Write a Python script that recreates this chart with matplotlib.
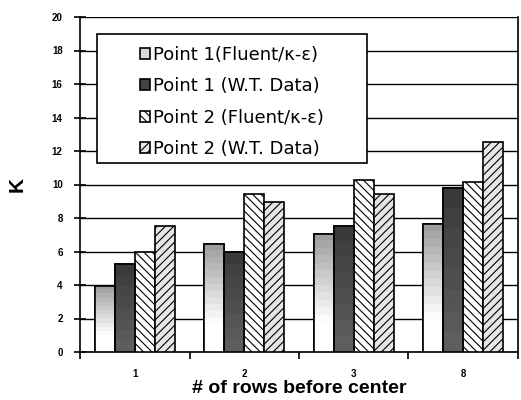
import matplotlib
matplotlib.use("Agg")
import matplotlib.pyplot as plt
import numpy as np

plt.rcParams['font.family'] = ['Liberation Sans', 'DejaVu Sans']
plt.rcParams['hatch.linewidth'] = 0.8

# dane
groups = ["1", "2", "3", "8"]
p1_fluent = [3.95, 6.45, 7.05, 7.65]
p1_wt = [5.25, 6.0, 7.55, 9.8]
p2_fluent = [5.95, 9.45, 10.25, 10.15]
p2_wt = [7.55, 8.95, 9.45, 12.55]
labels = ["Point 1(Fluent/κ-ε)", "Point 1 (W.T. Data)",
          "Point 2 (Fluent/κ-ε)", "Point 2 (W.T. Data)"]


def gradient_fill(ax, bars, top_val, bottom_val, nbands=16):
    # wypełnienie gradientem w paskach, przycięte do kształtu słupka
    grad = np.clip(np.linspace(top_val, bottom_val, nbands), 0, 1)
    for b in bars:
        x0, y0 = b.get_x(), b.get_y()
        w, h = b.get_width(), b.get_height()
        im = ax.imshow(grad.reshape(-1, 1), cmap="gray", vmin=0, vmax=1,
                       extent=(x0, x0 + w, y0, y0 + h), aspect="auto",
                       interpolation="nearest", zorder=b.get_zorder() + 0.1)
        im.set_clip_path(b)
        # obrys na wierzch
        ax.add_patch(plt.Rectangle((x0, y0), w, h, fill=False, edgecolor="black",
                                   linewidth=1.2, zorder=b.get_zorder() + 0.2))


fig = plt.figure(figsize=(5.21, 4.00), dpi=100)
ax = fig.add_axes([0.1536, 0.12, 0.8405, 0.8375])

x = np.arange(len(groups))
w = 0.182
offs = np.array([-1.5, -0.5, 0.5, 1.5]) * w

b1 = ax.bar(x + offs[0], p1_fluent, w, color="#d8d8d8", edgecolor="black", linewidth=1.2,
            label=labels[0], zorder=3)
b2 = ax.bar(x + offs[1], p1_wt, w, color="#444444", edgecolor="black", linewidth=1.2,
            label=labels[1], zorder=3)
b3 = ax.bar(x + offs[2], p2_fluent, w, color="white", edgecolor="black", linewidth=1.2,
            hatch="\\\\\\\\", label=labels[2], zorder=3)
b4 = ax.bar(x + offs[3], p2_wt, w, color="#e6e6e6", edgecolor="black", linewidth=1.2,
            hatch="////", label=labels[3], zorder=3)

gradient_fill(ax, b1, 0.62, 1.12)
gradient_fill(ax, b2, 0.23, 0.37, nbands=8)

ax.set_xlim(-0.5, 3.5)
ax.set_ylim(0, 20)
ax.set_yticks(np.arange(0, 21, 2))
ax.yaxis.grid(True, color="black", linewidth=1.0, zorder=0)
ax.set_axisbelow(True)

ax.set_xticks(np.arange(-0.5, 4.0, 1.0))
ax.set_xticklabels([])
ax.set_xticks(x, minor=True)
ax.set_xticklabels(groups, minor=True)
ax.tick_params(axis="x", which="major", direction="out", length=5, width=1.2)
ax.tick_params(axis="x", which="minor", length=0, pad=12, labelsize=7)
ax.tick_params(axis="y", direction="inout", length=9, width=1.2, labelsize=7, pad=8)
for t in ax.get_xticklabels(minor=True) + ax.get_yticklabels():
    t.set_fontweight("bold")

for s in ax.spines.values():
    s.set_linewidth(1.2)
ax.spines["top"].set_visible(False)

ax.set_ylabel("K", fontsize=15, fontweight="bold", labelpad=18)
ax.set_xlabel("# of rows before center", fontsize=14, fontweight="bold", labelpad=1)

# ramka legendy rysowana osobno (w oryginale jest szersza niż treść)
frame = plt.Rectangle((0.039, 0.564), 0.616, 0.385, transform=ax.transAxes,
                      facecolor="white", edgecolor="black", linewidth=1.2, zorder=5)
ax.add_patch(frame)
leg = ax.legend(loc="center", bbox_to_anchor=(0.039 + 0.616 / 2, 0.564 + 0.385 / 2 - 0.01),
                prop={"family": ["DejaVu Sans"], "size": 13},
                frameon=False, handlelength=0.55, handleheight=0.55, handletextpad=0.15,
                labelspacing=0.75, borderpad=0, borderaxespad=0)
leg.set_zorder(6)

plt.savefig("out.png", dpi=100)
